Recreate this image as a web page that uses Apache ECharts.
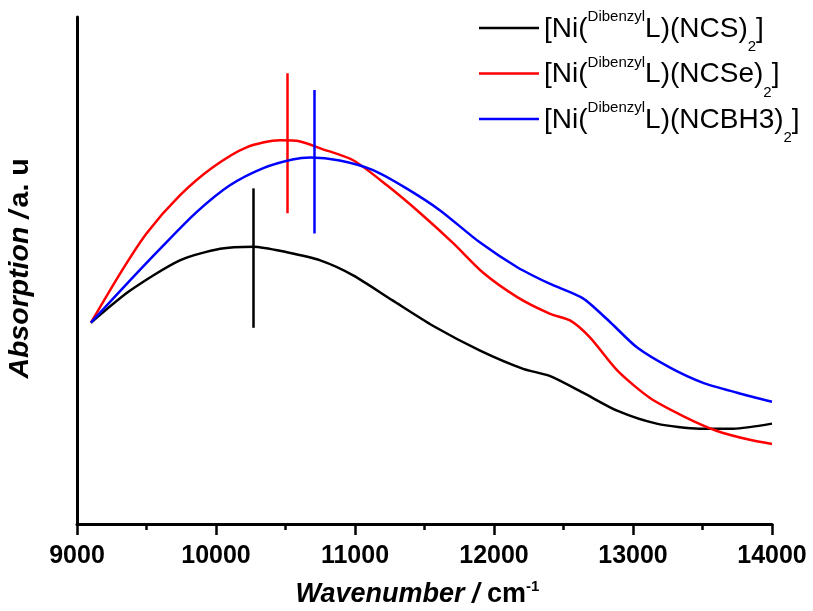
<!DOCTYPE html>
<html>
<head>
<meta charset="utf-8">
<script src="https://cdn.jsdelivr.net/npm/echarts@6/dist/echarts.min.js"></script>
<style>html,body{margin:0;padding:0;background:#fff}#c{width:813px;height:611px}</style>
</head>
<body>
<div id="c"></div>
<script>
// ---- data ----
const ligands = ['NCS', 'NCSe', 'NCBH3'];
const colors = ['#000000', '#ff0000', '#0000ff'];

const blackX = [9100, 9380, 9740, 10030, 10270, 10510, 10750, 10990, 11270, 11560, 11900, 12210, 12400, 12640, 12890, 13170, 13480, 13720, 14000];
const blackY = [39.7, 46.0, 52.0, 54.3, 54.7, 53.6, 52.0, 49.0, 44.1, 39.1, 34.2, 30.6, 29.2, 25.9, 22.3, 19.8, 18.8, 18.8, 19.8];

const redX = [9100, 9310, 9500, 9740, 9980, 10220, 10460, 10600, 10750, 10990, 11230, 11470, 11710, 11920, 12170, 12400, 12550, 12690, 12890, 13120, 13360, 13600, 13840, 14000];
const redY = [39.7, 49.4, 57.3, 64.8, 70.4, 74.3, 75.7, 75.5, 74.1, 71.7, 66.8, 61.3, 55.3, 49.6, 44.7, 41.5, 40.1, 36.8, 30.2, 24.9, 21.3, 18.4, 16.6, 15.8];

const blueX = [9100, 9380, 9620, 9860, 10100, 10340, 10550, 10680, 10890, 11130, 11370, 11610, 11900, 12170, 12400, 12640, 12840, 13030, 13270, 13500, 13750, 14000];
const blueY = [39.7, 48.0, 54.9, 61.5, 66.8, 70.2, 71.9, 72.3, 71.7, 69.8, 66.2, 61.9, 55.5, 50.6, 47.4, 44.5, 39.7, 34.8, 30.8, 27.9, 25.9, 24.1];

// peak marker lines
const peakX = [10270, 10510, 10705];
const peakTop = [66.2, 88.9, 85.6];
const peakBottom = [38.7, 61.3, 57.3];

const xTicks = [9000, 10000, 11000, 12000, 13000, 14000];

// ---- chart ----
const FONT = '"Liberation Sans", Arial, sans-serif';
const xs = [blackX, redX, blueX];
const ys = [blackY, redY, blueY];
const names = ligands.map(l => '[Ni(DibenzylL)(' + l + ')2]');

const series = names.map((name, i) => ({
  name: name,
  type: 'line',
  data: xs[i].map((x, k) => [x, ys[i][k]]),
  smooth: 0.25,
  showSymbol: false,
  symbol: 'none',
  lineStyle: { color: colors[i], width: 2.5 },
  itemStyle: { color: colors[i] },
  z: 3 + i,
  markLine: {
    silent: true,
    symbol: ['none', 'none'],
    label: { show: false },
    lineStyle: { color: colors[i], width: 2.5, type: 'solid' },
    data: [[{ coord: [peakX[i], peakTop[i]] }, { coord: [peakX[i], peakBottom[i]] }]]
  }
}));

const chart = echarts.init(document.getElementById('c'), null, { renderer: 'canvas' });
chart.setOption({
  animation: false,
  backgroundColor: '#ffffff',
  grid: { left: 77, right: 41, top: 17, bottom: 87, containLabel: false, outerBoundsMode: 'none' },
  legend: {
    orient: 'vertical',
    left: 474,
    top: 1,
    itemWidth: 60,
    itemHeight: 2.5,
    itemGap: -3,
    icon: 'rect',
    data: names,
    formatter: function (name) {
      const i = names.indexOf(name);
      return '{n|[Ni(}{sup|Dibenzyl}{n|L)(' + ligands[i] + ')}{sub|2}{n|]}';
    },
    textStyle: {
      fontFamily: FONT,
      fontSize: 28,
      color: '#000',
      rich: {
        n: { fontFamily: FONT, fontSize: 28, color: '#000', lineHeight: 44, height: 42, verticalAlign: 'bottom' },
        sup: { fontFamily: FONT, fontSize: 15, color: '#000', lineHeight: 20, height: 22, verticalAlign: 'top' },
        sub: { fontFamily: FONT, fontSize: 15, color: '#000', lineHeight: 20, height: 6, verticalAlign: 'bottom' }
      }
    }
  },
  xAxis: {
    type: 'value',
    min: 9000,
    max: 14000,
    interval: 1000,
    name: '{i|Wavenumber /}{b| cm}{s|-1}',
    nameLocation: 'middle',
    nameGap: 42,
    nameTextStyle: {
      padding: [0, 14, 0, 0],
      rich: {
        i: { fontFamily: FONT, fontSize: 27, fontWeight: 'bold', fontStyle: 'italic', color: '#000', lineHeight: 36, height: 30, verticalAlign: 'bottom' },
        b: { fontFamily: FONT, fontSize: 27, fontWeight: 'bold', color: '#000', lineHeight: 36, height: 30, verticalAlign: 'bottom' },
        s: { fontFamily: FONT, fontSize: 15, fontWeight: 'bold', color: '#000', lineHeight: 20, height: 25, verticalAlign: 'top' }
      }
    },
    axisLine: { show: true, onZero: false, lineStyle: { color: '#000', width: 3 } },
    axisTick: { show: true, inside: false, length: 11, lineStyle: { color: '#000', width: 2.5 } },
    minorTick: { show: true, splitNumber: 2, length: 6, lineStyle: { color: '#000', width: 2.5 } },
    splitLine: { show: false },
    axisLabel: {
      margin: 20,
      fontFamily: FONT,
      fontSize: 25,
      fontWeight: 'bold',
      color: '#000',
      formatter: v => (xTicks.indexOf(v) >= 0 ? String(v) : '')
    }
  },
  yAxis: {
    type: 'value',
    min: 0,
    max: 100,
    name: '{i|Absorption /} {b|a. u}',
    nameLocation: 'middle',
    nameRotate: 90,
    nameGap: 42,
    nameTextStyle: {
      padding: [0, 0, 0, 4],
      rich: {
        i: { fontFamily: FONT, fontSize: 28.5, fontWeight: 'bold', fontStyle: 'italic', color: '#000' },
        b: { fontFamily: FONT, fontSize: 28.5, fontWeight: 'bold', color: '#000' }
      }
    },
    axisLine: { show: true, onZero: false, lineStyle: { color: '#000', width: 3 } },
    axisTick: { show: false },
    axisLabel: { show: false },
    splitLine: { show: false }
  },
  series: series
});
</script>
</body>
</html>
